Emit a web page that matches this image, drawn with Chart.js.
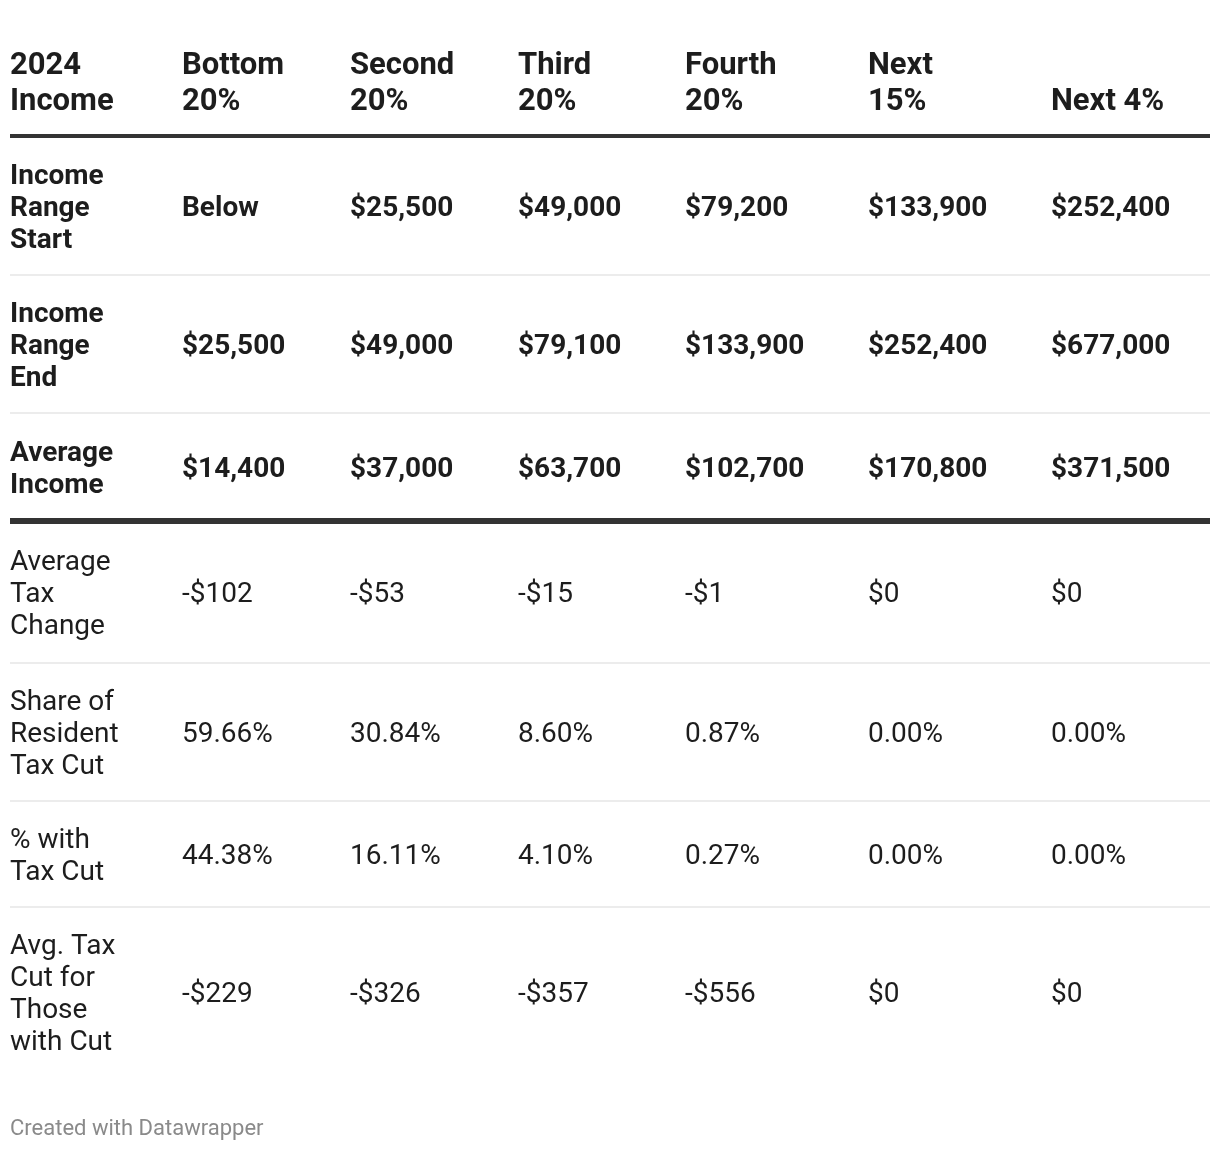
<!DOCTYPE html>
<html><head><meta charset="utf-8">
<script src="https://cdn.jsdelivr.net/npm/chart.js@4"></script>
<style>
html,body{margin:0;padding:0;background:#fff;width:1220px;height:1152px;overflow:hidden}
#wrap{position:relative;width:1220px;height:1152px}
canvas{position:absolute;left:0;top:0}
#credit{position:absolute;left:10px;top:1114px;font:22px Roboto,sans-serif;color:#8a8a8a;line-height:28px;white-space:nowrap}
</style></head><body>
<div id="wrap"><canvas id="c" width="1220" height="1152"></canvas><div id="credit">Created with Datawrapper</div></div>
<script>
// ---- data ----
const headerLabels = ["2024\nIncome","Bottom\n20%","Second\n20%","Third\n20%","Fourth\n20%","Next\n15%","Next 4%"];
const rowLabels = ["Income\nRange\nStart","Income\nRange\nEnd","Average\nIncome","Average\nTax\nChange","Share of\nResident\nTax Cut","% with\nTax Cut","Avg. Tax\nCut for\nThose\nwith Cut"];
const rangeStart   = [null, 25500, 49000, 79200, 133900, 252400];
const rangeEnd     = [25500, 49000, 79100, 133900, 252400, 677000];
const avgIncome    = [14400, 37000, 63700, 102700, 170800, 371500];
const avgTaxChange = [-102, -53, -15, -1, 0, 0];
const shareTaxCut  = [59.66, 30.84, 8.60, 0.87, 0.00, 0.00];
const pctWithCut   = [44.38, 16.11, 4.10, 0.27, 0.00, 0.00];
const avgCutThose  = [-229, -326, -357, -556, 0, 0];

// ---- layout / style ----
const colWidths = [172,168,168,167,183,183,159];
const headerHeight = 136;
const rowHeights = [139,138,108,142,138,106,169];
const thickAfter = [2]; // thick rule after this body row index
const bodyLineH = 32, headLineH = 36;
const bodyFont = 28, headFont = 31;
const textColor = '#1d1d1d';

const money = v => v === null ? 'Below' : (v < 0 ? '-' : '') + '$' + Math.abs(v).toLocaleString('en-US');
const pct = v => v.toFixed(2) + '%';

const rows = [
  {values: rangeStart, fmt: money, bold: true},
  {values: rangeEnd, fmt: money, bold: true},
  {values: avgIncome, fmt: money, bold: true},
  {values: avgTaxChange, fmt: money, bold: false},
  {values: shareTaxCut, fmt: pct, bold: false},
  {values: pctWithCut, fmt: pct, bold: false},
  {values: avgCutThose, fmt: money, bold: false}
];

const colStart = [0];
colWidths.forEach(w => colStart.push(colStart[colStart.length-1] + w));
const tableWidth = colStart[colStart.length-1];
const ruleYs = [headerHeight];
rowHeights.forEach(h => ruleYs.push(ruleYs[ruleYs.length-1] + h));
const rowCenters = rowHeights.map((h,i) => (ruleYs[i] + ruleYs[i+1]) / 2 + 3);

const datasets = [];
datasets.push({
  label: 'header', kind: 'header', bold: true,
  texts: headerLabels,
  data: headerLabels.map((t,i) => ({x: colStart[i], y: headerHeight - 34}))
});
rows.forEach((r, ri) => {
  const texts = [rowLabels[ri]].concat(r.values.map(r.fmt));
  datasets.push({
    label: 'row' + ri, kind: 'body', bold: r.bold,
    texts: texts,
    data: texts.map((t,i) => ({x: colStart[i], y: rowCenters[ri]}))
  });
});
datasets.forEach(d => { d.pointRadius = 0; d.pointHoverRadius = 0; d.showLine = false; });

const tablePlugin = {
  id: 'tablePlugin',
  beforeDatasetsDraw(chart) {
    const ctx = chart.ctx, xs = chart.scales.x, ys = chart.scales.y;
    const x0 = xs.getPixelForValue(0), x1 = xs.getPixelForValue(tableWidth);
    ctx.save();
    ruleYs.slice(0, ruleYs.length - 1).forEach((ry, i) => {
      const y = ys.getPixelForValue(ry);
      let w = 2, c = '#ececec';
      if (i === 0) { w = 4; c = '#333333'; }
      else if (thickAfter.includes(i - 1)) { w = 6; c = '#333333'; }
      ctx.fillStyle = c;
      ctx.fillRect(x0, y - w/2, x1 - x0, w);
    });
    ctx.restore();
  },
  afterDatasetsDraw(chart) {
    const ctx = chart.ctx;
    ctx.save();
    ctx.fillStyle = textColor;
    ctx.textAlign = 'left';
    ctx.textBaseline = 'middle';
    chart.data.datasets.forEach((ds, di) => {
      const meta = chart.getDatasetMeta(di);
      const isHead = ds.kind === 'header';
      ctx.font = (ds.bold ? 'bold ' : '') + (isHead ? headFont : bodyFont) + 'px Roboto';
      const lh = isHead ? headLineH : bodyLineH;
      meta.data.forEach((el, i) => {
        const lines = ds.texts[i].split('\n');
        const n = lines.length;
        lines.forEach((ln, k) => {
          const y = isHead ? el.y - (n - 1 - k) * lh : el.y + (k - (n - 1) / 2) * lh;
          ctx.fillText(ln, el.x, y);
        });
      });
    });
    ctx.restore();
  }
};

new Chart(document.getElementById('c'), {
  type: 'scatter',
  data: { datasets },
  options: {
    responsive: false, animation: false, devicePixelRatio: 1, events: [],
    layout: { padding: 0 },
    plugins: { legend: { display: false }, tooltip: { enabled: false } },
    scales: {
      x: { type: 'linear', display: false, min: -10, max: 1210 },
      y: { type: 'linear', display: false, reverse: true, min: 0, max: 1152 }
    }
  },
  plugins: [tablePlugin]
});
</script>
</body></html>
